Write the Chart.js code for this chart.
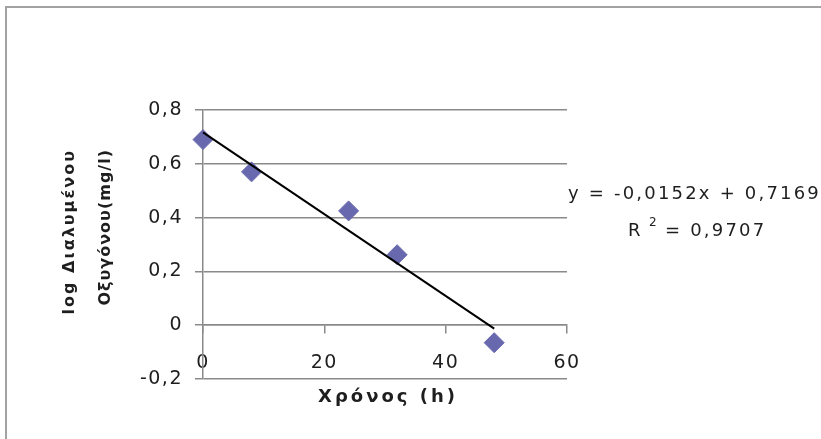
<!DOCTYPE html>
<html>
<head>
<meta charset="utf-8">
<script src="https://cdn.jsdelivr.net/npm/chart.js@4/dist/chart.umd.min.js"></script>
<style>
  html, body { margin: 0; padding: 0; background: #fff; overflow: hidden; }
  body { width: 821px; height: 439px; position: relative; }
  #frame { position: absolute; left: 5px; top: 6px; width: 900px; height: 520px; border: 2px solid #a2a2a2; box-sizing: border-box; }
  #chart { position: absolute; left: 0; top: 0; }
</style>
</head>
<body>
<div id="frame"></div>
<canvas id="chart" width="821" height="439"></canvas>
<script>
// Dissolved oxygen measurements (log scale) over time
const hours = [0, 8, 24, 32, 48];
const logOxygen = [0.69, 0.57, 0.425, 0.262, -0.065];

// Linear trendline as reported in the equation label
const trendSlope = -0.0152;
const trendIntercept = 0.7169;
const trendR2 = '0,9707';

const xTickLabels = ['0', '20', '40', '60'];
const yTickLabels = ['-0,2', '0', '0,2', '0,4', '0,6', '0,8'];

const xTitle = 'Χρόνος (h)';
const yTitleLines = ['log Διαλυμένου', 'Οξυγόνου(mg/l)'];
const equationText = 'y = -0,0152x + 0,7169';

const points = hours.map((h, i) => ({ x: h, y: logOxygen[i] }));
const trendX = [hours[0], hours[hours.length - 1]];
const trendPoints = trendX.map(x => ({ x: x, y: trendSlope * x + trendIntercept }));

const GRID = '#8a8a8a';
const TEXT = '#1e1e1e';
const FONT = '"DejaVu Sans", "Open Sans", sans-serif';

// Axis titles and the regression label, drawn after the chart
const labelsPlugin = {
  id: 'labels',
  beforeDraw(chart) {
    chart.ctx.letterSpacing = '1.5px';
  },
  afterDraw(chart) {
    const ctx = chart.ctx;
    const area = chart.chartArea;
    ctx.save();
    ctx.fillStyle = TEXT;

    // x axis title
    ctx.font = 'bold 18px ' + FONT;
    ctx.letterSpacing = '3px';
    ctx.textAlign = 'center';
    ctx.textBaseline = 'middle';
    ctx.fillText(xTitle, (area.left + area.right) / 2 + 3, 397);

    // y axis title, two rotated lines ending near the top of the plot
    ctx.save();
    ctx.translate(0, 149);
    ctx.rotate(-Math.PI / 2);
    ctx.textAlign = 'right';
    ctx.font = 'bold 16px ' + FONT;
    ctx.letterSpacing = '2px';
    ctx.fillText(yTitleLines[0], 0, 70);
    ctx.letterSpacing = '1px';
    ctx.fillText(yTitleLines[1], 0, 106);
    ctx.restore();

    // trendline equation and R²
    ctx.font = '18px ' + FONT;
    ctx.fillStyle = TEXT;
    ctx.textAlign = 'left';
    ctx.textBaseline = 'alphabetic';
    ctx.letterSpacing = '2.2px';
    ctx.fillText(equationText, 568, 199);
    ctx.fillText('R', 628, 236);
    ctx.font = '12px ' + FONT;
    ctx.fillText('2', 649, 226);
    ctx.font = '18px ' + FONT;
    ctx.fillText('= ' + trendR2, 665, 236);
    ctx.restore();
  }
};

new Chart(document.getElementById('chart'), {
  type: 'scatter',
  data: {
    datasets: [
      {
        type: 'line',
        data: trendPoints,
        borderColor: '#000',
        borderWidth: 2,
        pointRadius: 0,
        fill: false,
        clip: false,
        order: 0
      },
      {
        data: points,
        pointStyle: 'rectRot',
        pointRadius: 10,
        pointHoverRadius: 10,
        backgroundColor: '#6868ae',
        borderColor: '#6868ae',
        borderWidth: 1,
        clip: false,
        order: 1
      }
    ]
  },
  options: {
    responsive: false,
    animation: false,
    devicePixelRatio: 1,
    layout: { padding: { top: 110, right: 254, bottom: 60, left: 0 } },
    plugins: { legend: { display: false }, tooltip: { enabled: false } },
    scales: {
      x: {
        type: 'linear',
        position: { y: 0 },
        min: 0,
        max: 60,
        ticks: {
          stepSize: 20,
          padding: 18,
          color: TEXT,
          font: { family: FONT, size: 19 },
          callback: (v, i) => xTickLabels[i]
        },
        grid: { drawOnChartArea: false, drawTicks: true, tickLength: 8, color: GRID, lineWidth: 1.5 },
        border: { color: GRID, width: 1.5 }
      },
      y: {
        position: 'left',
        min: -0.2,
        max: 0.8,
        afterFit: s => { s.width = 203; },
        ticks: {
          stepSize: 0.2,
          padding: 12,
          color: TEXT,
          font: { family: FONT, size: 19 },
          callback: (v, i) => yTickLabels[i]
        },
        grid: { color: GRID, lineWidth: 1.5, tickLength: 8 },
        border: { color: GRID, width: 1.5 }
      }
    }
  },
  plugins: [labelsPlugin]
});
</script>
</body>
</html>
